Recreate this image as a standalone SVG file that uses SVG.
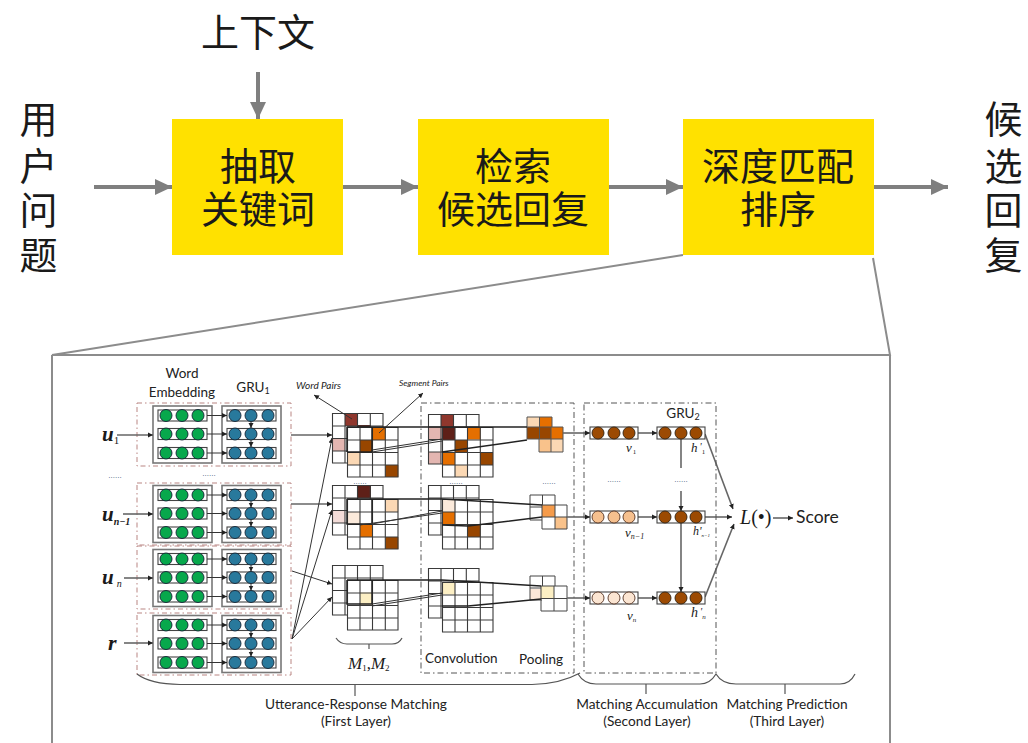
<svg xmlns="http://www.w3.org/2000/svg" xmlns:xlink="http://www.w3.org/1999/xlink" width="1028" height="743" viewBox="0 0 1028 743">
<style>
.zh{font-family:"Noto Sans CJK SC","Liberation Sans",sans-serif;font-size:38px;fill:#1a1a1a;text-anchor:middle}
.yb{fill:#ffe100}
.big{stroke:#7f7f7f;stroke-width:4;fill:none}
.lat{font-family:Lato,"Open Sans",sans-serif;font-size:13.5px;fill:#222;text-anchor:middle}
.cap{font-size:13.7px}
.ser{font-family:"Liberation Serif",serif;font-style:italic;fill:#1a1a1a}
.sit{font-family:Lato,"Open Sans",sans-serif;font-style:italic;fill:#222}
.ln{stroke:#333;stroke-width:1;fill:none}
.gl{stroke:#666;stroke-width:1.6;fill:none}
.th{stroke:#222;stroke-width:1.5;fill:none}
.brace{stroke:#555;stroke-width:1.2;fill:none}
.db{fill:none;stroke:#b98582;stroke-width:1;stroke-dasharray:5 3 1.5 3}
.dk{fill:none;stroke:#555;stroke-width:1;stroke-dasharray:6 3 1.5 3}
.box{fill:#fff;stroke:#777;stroke-width:1.6}
.bar{fill:#fff;stroke:#444;stroke-width:1.1}
.gc{fill:#07a84c;stroke:#123;stroke-width:.9}
.bc{fill:#28799c;stroke:#123;stroke-width:.9}
.bw{fill:#9c4a02;stroke:#321;stroke-width:.9}
.lo{fill:#f6c08e;stroke:#532;stroke-width:.9}
.vl{fill:#fbe5d2;stroke:#532;stroke-width:.9}
.dots{font-family:"Liberation Sans",sans-serif;font-size:8px;fill:#44607a;text-anchor:middle}
.r1{fill:#8f372d}.r2{fill:#5e2018}.pk{fill:#e3b6b1}.lp{fill:#f3dcd8}
.or{fill:#e56f00}.br{fill:#984600}.li{fill:#fbd8b4}.vli{fill:#fbeadb}.lor{fill:#f59b4a}.mor{fill:#f9c28b}.ye{fill:#fcefc4}
</style>
<defs>
<marker id="bigA" markerUnits="userSpaceOnUse" markerWidth="18" markerHeight="16" refX="17" refY="8" orient="auto"><path d="M0 0L17 8L0 16Z" fill="#7f7f7f"/></marker>
<marker id="sm" markerUnits="userSpaceOnUse" markerWidth="6" markerHeight="6" refX="5" refY="3" orient="auto"><path d="M0 .5L5 3L0 5.5Z" fill="#222"/></marker>
<g id="grid"><rect width="51" height="50" fill="#fff" stroke="none"/></g>
<g id="lines"><path d="M.5 .5H51V50H.5ZM13 .5V50M25.5 .5V50M38.3 .5V50M.5 13H51M.5 25.5H51M.5 38H51" fill="none" stroke="#3a3a3a" stroke-width="1.1"/></g>
<g id="pr"><rect class="bar" x="0" y="-5.5" width="49" height="11"/></g>
<g id="block">
<rect class="box" x="153" y="0" width="59" height="57"/><rect class="box" x="222" y="0" width="59" height="57"/>
<g id="emb"><use xlink:href="#pr" x="158" y="9.5"/><use xlink:href="#pr" x="158" y="28"/><use xlink:href="#pr" x="158" y="47"/></g>
<use xlink:href="#pr" x="227" y="9.5"/><use xlink:href="#pr" x="227" y="28"/><use xlink:href="#pr" x="227" y="47"/>
<g class="gc"><circle cx="166" cy="9.5" r="6"/><circle cx="182" cy="9.5" r="6"/><circle cx="198" cy="9.5" r="6"/><circle cx="166" cy="28" r="6"/><circle cx="182" cy="28" r="6"/><circle cx="198" cy="28" r="6"/><circle cx="166" cy="47" r="6"/><circle cx="182" cy="47" r="6"/><circle cx="198" cy="47" r="6"/></g>
<g class="bc"><circle cx="235" cy="9.5" r="6"/><circle cx="251" cy="9.5" r="6"/><circle cx="268" cy="9.5" r="6"/><circle cx="235" cy="28" r="6"/><circle cx="251" cy="28" r="6"/><circle cx="268" cy="28" r="6"/><circle cx="235" cy="47" r="6"/><circle cx="251" cy="47" r="6"/><circle cx="268" cy="47" r="6"/></g>
<path class="ln" marker-end="url(#sm)" d="M207 9.5H227"/><path class="ln" marker-end="url(#sm)" d="M207 28H227"/><path class="ln" marker-end="url(#sm)" d="M207 47H227"/>
<path class="ln" marker-end="url(#sm)" d="M251 15.5V22"/><path class="ln" marker-end="url(#sm)" d="M251 34V41"/>
</g>
</defs>
<rect width="1028" height="743" fill="#fff"/>

<g id="connectors">
<path class="big" marker-end="url(#bigA)" d="M258 72V119"/>
<path class="big" marker-end="url(#bigA)" d="M94 187H172"/>
<path class="big" marker-end="url(#bigA)" d="M343 187H418"/>
<path class="big" marker-end="url(#bigA)" d="M609 187H683"/>
<path class="big" marker-end="url(#bigA)" d="M873 187H948"/>
<path d="M683 255L52 355H890L873 258M52 355V743M890 355V743" fill="none" stroke="#8c8c8c" stroke-width="2"/>
</g>

<g id="node-context"><text class="zh" x="258" y="46">上下文</text></g>
<g id="node-query" class="q"><text class="zh" x="38.500" y="133">用</text><text class="zh" x="38.500" y="180">户</text><text class="zh" x="38.500" y="224">问</text><text class="zh" x="38.500" y="269">题</text></g>
<g id="node-extract"><rect class="yb" x="172" y="119" width="171" height="136"/><text class="zh" x="258" y="180">抽取</text><text class="zh" x="258" y="223">关键词</text></g>
<g id="node-retrieve"><rect class="yb" x="418" y="119" width="191" height="136"/><text class="zh" x="513" y="180">检索</text><text class="zh" x="513" y="223">候选回复</text></g>
<g id="node-rank"><rect class="yb" x="683" y="119" width="191" height="136"/><text class="zh" x="778" y="180">深度匹配</text><text class="zh" x="778" y="223">排序</text></g>
<g id="node-reply"><text class="zh" x="1003.500" y="133">候</text><text class="zh" x="1003.500" y="180">选</text><text class="zh" x="1003.500" y="224">回</text><text class="zh" x="1003.500" y="269">复</text></g>

<g id="node-inputs">
<rect class="db" x="137" y="403" width="154" height="63"/><rect class="db" x="137" y="483" width="154" height="62"/><rect class="db" x="137" y="546" width="154" height="63"/><rect class="db" x="137" y="613" width="154" height="62"/>
<use xlink:href="#block" y="406"/><use xlink:href="#block" y="485.5"/><use xlink:href="#block" y="549.5"/><use xlink:href="#block" y="615.5"/>
<text class="lat" x="182" y="378">Word</text><text class="lat" x="182" y="397">Embedding</text>
<text class="lat" x="253" y="392">GRU<tspan font-size="9" dy="2">1</tspan></text>
<text class="ser" font-size="21" font-weight="bold" x="102" y="441">u<tspan font-size="11" font-weight="normal" font-style="normal" dy="3">1</tspan></text>
<text class="ser" font-size="21" font-weight="bold" x="102" y="521">u<tspan font-size="10" dy="4">n−1</tspan></text>
<text class="ser" font-size="21" font-weight="bold" x="102" y="584">u<tspan font-size="10" font-weight="normal" dx="3" dy="3">n</tspan></text>
<text class="ser" font-size="22" font-weight="bold" x="108" y="650">r</text>
<text class="dots" x="115" y="478">......</text><text class="dots" x="209" y="476">......</text>
</g>

<g id="connectors-inputs">
<path class="gl" marker-end="url(#sm)" d="M117 435H153"/><path class="gl" marker-end="url(#sm)" d="M123 514H153"/><path class="gl" marker-end="url(#sm)" d="M124 578H153"/><path class="gl" marker-end="url(#sm)" d="M124 643H153"/>
<path class="gl" marker-end="url(#sm)" d="M291 435H332"/><path class="gl" marker-end="url(#sm)" d="M291 504H332"/><path class="ln" marker-end="url(#sm)" d="M292 571L332 584"/>
<path class="ln" marker-end="url(#sm)" d="M292 639L332 438"/><path class="ln" marker-end="url(#sm)" d="M292 639L332 510"/><path class="ln" marker-end="url(#sm)" d="M292 639L332 597"/>
</g>

<g id="node-matching">
<use xlink:href="#grid" x="332" y="413"/><rect class="r1" x="345" y="413" width="13" height="13"/><rect class="r2" x="358" y="425" width="13" height="3"/><rect class="pk" x="332" y="438" width="13" height="13"/><use xlink:href="#lines" x="332" y="413"/>
<use xlink:href="#grid" x="347" y="427"/><rect class="or" x="372.500" y="427" width="13" height="13"/><rect class="br" x="360" y="440" width="13" height="12.500"/><rect class="li" x="347" y="452" width="13" height="13"/><rect class="br" x="385.300" y="465" width="13" height="12"/><use xlink:href="#lines" x="347" y="427"/>

<use xlink:href="#grid" x="332" y="485"/><rect class="r2" x="358" y="485" width="13" height="13"/><rect class="lp" x="332" y="510.500" width="13" height="12.500"/><use xlink:href="#lines" x="332" y="485"/>
<use xlink:href="#grid" x="347" y="499"/><rect class="li" x="385.300" y="499" width="13" height="13"/><rect class="vli" x="347" y="512" width="13" height="13"/><rect class="or" x="360" y="525" width="12.500" height="12"/><rect class="br" x="385.300" y="537" width="13" height="12"/><use xlink:href="#lines" x="347" y="499"/>

<use xlink:href="#grid" x="332" y="565"/><use xlink:href="#lines" x="332" y="565"/>
<use xlink:href="#grid" x="347" y="580"/><rect class="ye" x="360" y="592.500" width="12.500" height="12.500"/><use xlink:href="#lines" x="347" y="580"/>

<path class="brace" d="M336 638Q340 644 347 644H392Q399 644 402 638M369 644V649"/>
<text class="ser" font-size="17" x="348" y="669">M<tspan font-size="9" font-style="normal" dy="2">1</tspan><tspan dy="-2" font-style="normal">,</tspan>M<tspan font-size="9" font-style="normal" dy="2">2</tspan></text>
<text class="sit" font-size="10" x="296" y="389">Word Pairs</text>
<text class="sit" font-size="8.500" x="399" y="386">Segment Pairs</text>
<path class="ln" marker-end="url(#sm)" d="M352 419L314 395"/>
<path class="ln" marker-end="url(#sm)" d="M379 433L423 393"/>
</g>

<g id="node-convolution">
<rect class="dk" x="421" y="403" width="153" height="270"/>
<use xlink:href="#grid" x="428" y="414"/><rect class="r1" x="441" y="414" width="13" height="13"/><rect class="pk" x="428" y="427" width="14" height="13"/><rect class="pk" x="428" y="452" width="13" height="12"/><use xlink:href="#lines" x="428" y="414"/>
<use xlink:href="#grid" x="442" y="427"/><rect class="r2" x="442" y="427" width="13" height="13"/><rect class="or" x="468" y="427" width="12.500" height="12.500"/><rect class="br" x="455" y="440" width="13" height="12"/><rect class="or" x="442" y="452" width="13" height="13"/><rect class="br" x="480" y="452" width="13" height="13"/><rect class="li" x="455" y="465" width="13" height="12"/><use xlink:href="#lines" x="442" y="427"/>

<use xlink:href="#grid" x="428" y="485"/><use xlink:href="#lines" x="428" y="485"/>
<use xlink:href="#grid" x="442" y="499"/><rect class="vli" x="442" y="499" width="13" height="13"/><rect class="or" x="442" y="512" width="13" height="13"/><rect class="br" x="468" y="524" width="12.500" height="13"/><use xlink:href="#lines" x="442" y="499"/>

<use xlink:href="#grid" x="428" y="568"/><use xlink:href="#lines" x="428" y="568"/>
<use xlink:href="#grid" x="442" y="582"/><rect class="ye" x="442" y="582" width="13" height="12.500"/><use xlink:href="#lines" x="442" y="582"/>

<rect class="li" x="527" y="417" width="12.500" height="10"/><rect class="or" x="539.500" y="417" width="12.500" height="10"/><rect class="br" x="527" y="427" width="12.500" height="12"/><rect class="br" x="539" y="427" width="12" height="12"/><rect class="or" x="551" y="427" width="12" height="12"/><rect class="mor" x="539" y="439" width="12" height="13"/><rect class="li" x="551" y="439" width="12" height="13"/>
<path d="M527 417H552V427H563V452H539V439H527ZM539.500 417V439M551 427V452M527 427H552M539 439H563" fill="none" stroke="#555" stroke-width="1"/>

<path d="M530 495H555V505M530 495V520H542M542.500 495V505M530 507H542" fill="none" stroke="#444"/>
<rect class="lor" x="542" y="505" width="13" height="12"/><rect class="mor" x="555" y="517" width="12" height="12"/>
<path d="M542 505H567V529H542ZM555 505V529M542 517H567" fill="none" stroke="#444"/>

<rect x="530" y="589" width="11.500" height="11" fill="#fbe7d8"/>
<path d="M530 576H555V586M530 576V600H542M542.500 576V586M530 588H542" fill="none" stroke="#444"/>
<rect class="ye" x="541" y="586" width="13" height="12"/>
<path d="M541 586H567V611H541ZM554 586V611M541 598.500H567" fill="none" stroke="#444"/>

<text class="lat" x="425" y="663" style="text-anchor:start">Convolution</text>
<text class="lat" x="519" y="664" style="text-anchor:start">Pooling</text>
<text class="dots" x="360" y="484">......</text><text class="dots" x="456" y="484">......</text><text class="dots" x="549" y="484">......</text>
</g>

<g id="connectors-windows">
<path class="th" d="M347 427H527"/><path class="th" d="M347 452H372M372 427V452"/><path class="th" d="M347 427V452"/><path class="ln" d="M372 450L442 439M372 452L442 441"/><path class="th" d="M442 452L527 440"/>
<path class="th" d="M347 499H442L542 505"/><path class="th" d="M347 499V524H372V499"/><path class="ln" d="M372 524L442 511M360 525L442 513"/><path class="th" d="M442 525L468 526M468 526L542 517"/>
<path class="th" d="M347 580H442L541 586"/><path class="th" d="M347 580V604H372V580"/><path class="ln" d="M372 604L442 593M372 606L442 595"/><path class="th" d="M442 606H468L541 599"/>
<path class="gl" marker-end="url(#sm)" d="M563 433H590"/><path class="gl" marker-end="url(#sm)" d="M567 517H590"/><path class="gl" marker-end="url(#sm)" d="M567 598H590"/>
<path class="gl" marker-end="url(#sm)" d="M638 433H657"/><path class="gl" marker-end="url(#sm)" d="M638 517H657"/><path class="gl" marker-end="url(#sm)" d="M638 598H657"/>
<path class="gl" d="M681 439V468"/><path class="gl" marker-end="url(#sm)" d="M681 491V511"/><path class="gl" marker-end="url(#sm)" d="M681 523V592"/>
<path class="gl" marker-end="url(#sm)" d="M705 434L733 509"/><path class="gl" marker-end="url(#sm)" d="M705 517H732"/><path class="gl" marker-end="url(#sm)" d="M705 597L734 524"/>
<path class="gl" marker-end="url(#sm)" d="M773 518H793"/>
</g>

<g id="node-accumulation">
<rect class="dk" x="584" y="403" width="132" height="270"/>
<rect class="bar" x="590" y="427" width="48" height="12"/><rect class="bar" x="657" y="427" width="48" height="12"/>
<rect class="bar" x="590" y="511" width="48" height="12"/><rect class="bar" x="657" y="511" width="48" height="12"/>
<rect class="bar" x="590" y="592" width="48" height="12"/><rect class="bar" x="657" y="592" width="48" height="12"/>
<g class="bw"><circle cx="598" cy="433" r="6"/><circle cx="614" cy="433" r="6"/><circle cx="629" cy="433" r="6"/><circle cx="665" cy="433" r="6"/><circle cx="681" cy="433" r="6"/><circle cx="696" cy="433" r="6"/><circle cx="665" cy="517" r="6"/><circle cx="681" cy="517" r="6"/><circle cx="696" cy="517" r="6"/><circle cx="665" cy="598" r="6"/><circle cx="681" cy="598" r="6"/><circle cx="696" cy="598" r="6"/></g>
<g class="lo"><circle cx="598" cy="517" r="6"/><circle cx="614" cy="517" r="6"/><circle cx="629" cy="517" r="6"/></g>
<g class="vl"><circle cx="598" cy="598" r="6"/><circle cx="614" cy="598" r="6"/><circle cx="629" cy="598" r="6"/></g>
<text class="lat" x="683" y="418">GRU<tspan font-size="9" dy="2">2</tspan></text>
<text class="ser" font-size="13" x="626" y="452">v<tspan font-size="7" font-style="normal" dx="1" dy="2">1</tspan></text>
<text class="ser" font-size="13" x="625" y="537">v<tspan font-size="8" dy="2">n−1</tspan></text>
<text class="ser" font-size="13" x="627" y="620">v<tspan font-size="7" dy="2">n</tspan></text>
<text class="ser" font-size="13" x="691" y="452">h<tspan dx="2" font-size="10" dy="-2">'</tspan><tspan font-size="7" font-style="normal" dy="4">1</tspan></text>
<text class="ser" font-size="12" x="693" y="535">h'<tspan font-size="5" dy="2">n=1</tspan></text>
<text class="ser" font-size="14" x="691" y="617">h<tspan dx="2" font-size="10" dy="-2">'</tspan><tspan font-size="7" dy="4">n</tspan></text>
<text class="dots" x="614" y="482">......</text><text class="dots" x="681" y="482">......</text>
</g>

<g id="node-score">
<text class="ser" font-size="20" x="740" y="524">L<tspan font-style="normal">(•)</tspan></text>
<text class="lat" x="796" y="523" style="text-anchor:start;font-size:17.500px">Score</text>
</g>

<g id="node-layers">
<path class="brace" d="M137 674Q150 684 180 684.500H532Q560 684 580 673"/><path class="brace" d="M355 684.500V696"/>
<path class="brace" d="M578 674Q584 684 596 684H700Q710 684 716 674Q722 684 736 684H840Q850 684 855 674M646 684V694M785 684V694"/>
<text class="lat cap" x="356" y="709">Utterance-Response Matching</text><text class="lat cap" x="356" y="726">(First Layer)</text>
<text class="lat cap" x="647" y="709">Matching Accumulation</text><text class="lat cap" x="647" y="726">(Second Layer)</text>
<text class="lat cap" x="787" y="709">Matching Prediction</text><text class="lat cap" x="787" y="726">(Third Layer)</text>
</g>
</svg>
